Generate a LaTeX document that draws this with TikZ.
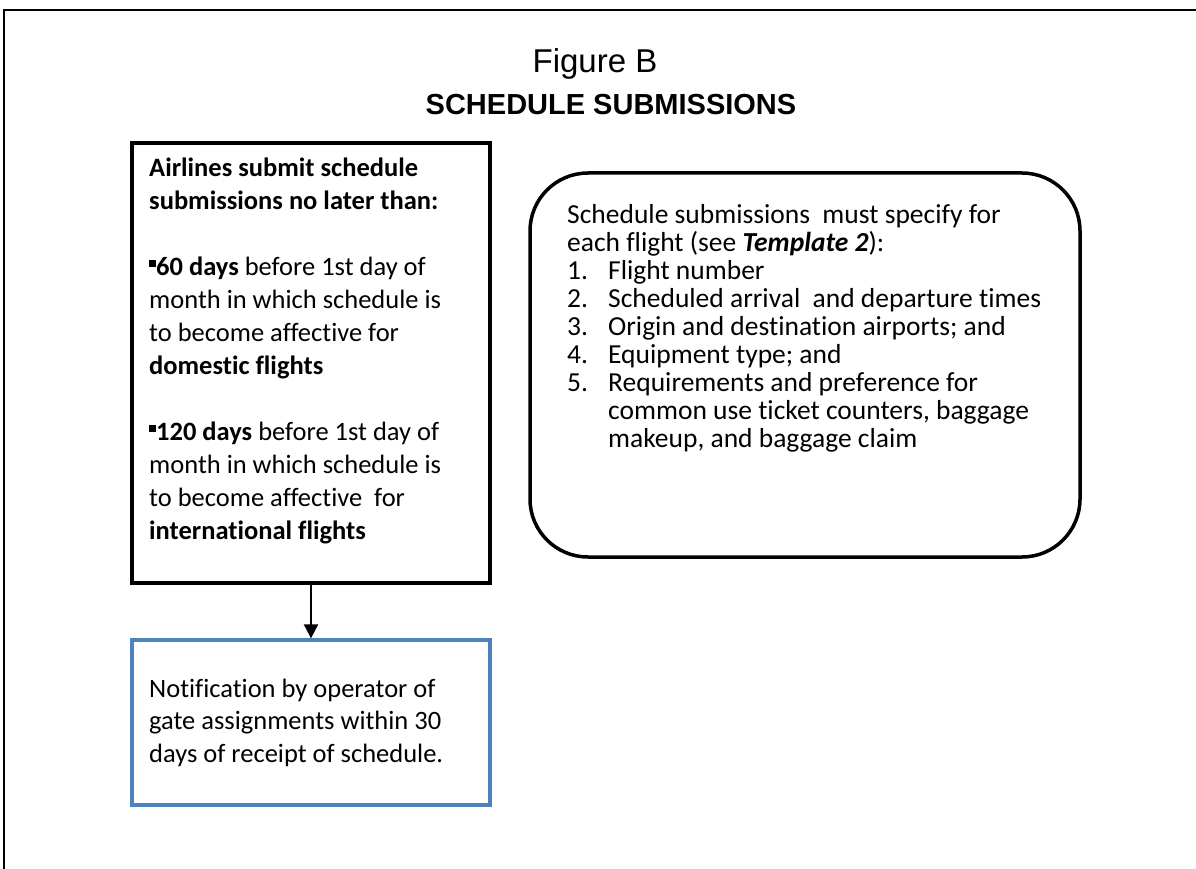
\documentclass[tikz,border=0pt]{standalone}
\usepackage{fontspec}
\setmainfont[Ligatures=CommonOff]{Carlito}
\newfontfamily\titlefont{Liberation Sans}
\usetikzlibrary{arrows.meta}
\definecolor{bb}{RGB}{79,129,189}
\newcommand{\sqbul}{\raisebox{8pt}{\rule{7pt}{7pt}}}
\newcommand{\numitem}[1]{\makebox[41pt][l]{#1}}

\begin{document}
\begin{tikzpicture}[x=1pt,y=-1pt]
\useasboundingbox (0,0) rectangle (1196,869);
\draw [line width=2pt] (4,869) -- (4,10) -- (1196,10);
\node (figname) [anchor=base, inner sep=0pt, font=\titlefont\fontsize{33}{40}\selectfont] at (595,73) {Figure B};
\node (title) [anchor=base, inner sep=0pt, font=\titlefont\bfseries\fontsize{29}{34}\selectfont] at (611,115) {SCHEDULE SUBMISSIONS};
\node (submit) [rectangle, draw=black, line width=3.3pt, minimum width=358pt, minimum height=440pt] at (311,363) {};
\node (notify) [rectangle, draw=bb, line width=3.3pt, minimum width=358pt, minimum height=165pt] at (311,722.5) {};
\node (specs) [rectangle, rounded corners=58pt, draw=black, line width=3.5pt, minimum width=550pt, minimum height=384pt] at (805,365) {};
\node (submittext) [anchor=base west, inner sep=0pt, align=left, font=\fontsize{26.5}{33}\selectfont] at (149,539) {\textbf{Airlines submit schedule}\\\textbf{submissions no later than:}\\[33pt]\sqbul\textbf{60 days} before 1st day of\\month in which schedule is\\to become affective for\\\textbf{domestic flights}\\[33pt]\sqbul\textbf{120 days} before 1st day of\\month in which schedule is\\to become affective\ \ for\\\textbf{international flights}};
\node (specstext) [anchor=base west, inner sep=0pt, align=left, font=\fontsize{27.5}{28}\selectfont] at (567,447) {Schedule submissions\ \ must specify for\\each flight (see \textbf{\textit{Template 2}}):\\\numitem{1.}Flight number\\\numitem{2.}Scheduled arrival\ \ and departure times\\\numitem{3.}Origin and destination airports; and\\\numitem{4.}Equipment type; and\\\numitem{5.}Requirements and preference for\\\hspace*{41pt}common use ticket counters, baggage\\\hspace*{41pt}makeup, and baggage claim};
\node (notifytext) [anchor=base west, inner sep=0pt, align=left, font=\fontsize{26.5}{32.5}\selectfont] at (149,762) {Notification by operator of\\gate assignments within 30\\days of receipt of schedule.};
\draw [line width=2pt, -{Triangle[length=14pt, width=14pt]}] (submit) -- (notify);
\end{tikzpicture}
\end{document}
